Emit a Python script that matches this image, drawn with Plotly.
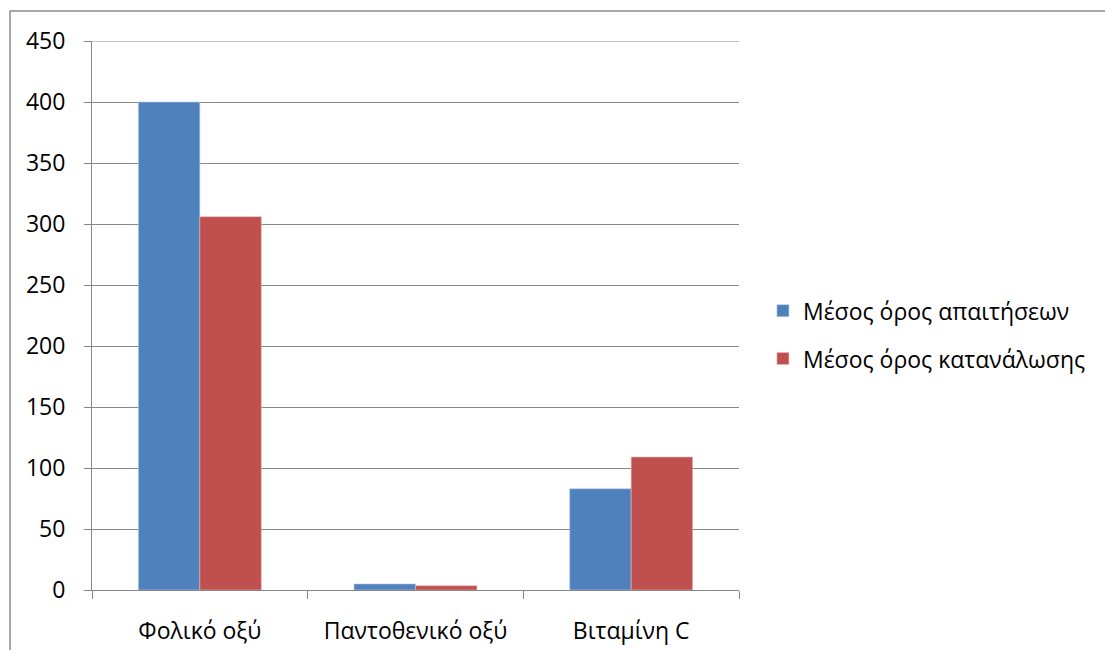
import plotly.graph_objects as go

categories = ["Φολικό οξύ", "Παντοθενικό οξύ", "Βιταμίνη C"]
requirements = [400, 5, 83]
consumption = [306, 3.5, 109]
series_names = ["Μέσος όρος απαιτήσεων", "Μέσος όρος κατανάλωσης"]
y_ticks = [0, 50, 100, 150, 200, 250, 300, 350, 400, 450]

font_family = "Open Sans, Liberation Sans, sans-serif"
grid_color = "#878787"

fig = go.Figure()
fig.add_trace(go.Bar(x=categories, y=requirements, name=series_names[0],
                     marker=dict(color="#4f81bd", line=dict(color="#b9cde5", width=0.6)),
                     legendgroup="a"))
fig.add_trace(go.Bar(x=categories, y=consumption, name=series_names[1],
                     marker=dict(color="#c0504d", line=dict(color="#e6b9b8", width=0.6)),
                     legendgroup="b"))

fig.update_layout(
    width=1105, height=650,
    margin=dict(l=92, r=366, t=41, b=59.5),
    paper_bgcolor="white", plot_bgcolor="white",
    barmode="group", bargap=0.43, bargroupgap=0,
    font=dict(family=font_family, size=23, color="black"),
    showlegend=True,
    legend=dict(x=1.037, y=0.465, xanchor="left", yanchor="middle",
                traceorder="grouped", tracegroupgap=15,
                font=dict(size=23), itemwidth=30),
    xaxis=dict(showline=True, linecolor=grid_color, linewidth=1,
               ticks="outside", ticklen=8, tickcolor=grid_color,
               tickson="boundaries", showgrid=False, fixedrange=True,
               ticklabelstandoff=20, automargin=False),
    yaxis=dict(range=[0, 450], tickvals=y_ticks, showline=True,
               linecolor=grid_color, linewidth=1, ticks="outside",
               ticklen=7, tickcolor=grid_color, showgrid=True,
               gridcolor=grid_color, gridwidth=1, zeroline=False,
               ticklabelstandoff=14, fixedrange=True, automargin=False),
    shapes=[
        dict(type="rect", xref="paper", yref="paper",
             x0=-0.1267, y0=-0.3, x1=1.8, y1=1.0546,
             line=dict(color="#8c8c8c", width=1.5), fillcolor="rgba(0,0,0,0)",
             layer="below"),
        # top gridline at the axis maximum
        dict(type="line", xref="paper", yref="y", x0=0, x1=1,
             y0=y_ticks[-1], y1=y_ticks[-1],
             line=dict(color=grid_color, width=1), layer="below"),
    ],
)

fig.write_html("out.html")
